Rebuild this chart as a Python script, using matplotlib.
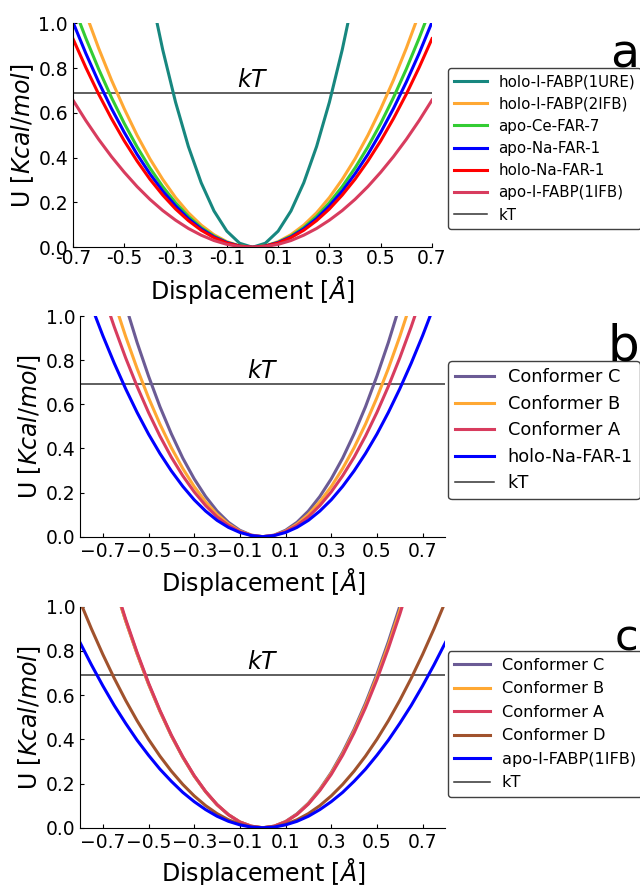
import numpy as np
import matplotlib
matplotlib.use('Agg')
import matplotlib.pyplot as plt

# energia kT (linea orizzontale)
kT = 0.69

xticks = [-0.7, -0.5, -0.3, -0.1, 0.1, 0.3, 0.5, 0.7]
xlabels_a = ['-0.7', '-0.5', '-0.3', '-0.1', '0.1', '0.3', '0.5', '0.7']
xlabels_bc = ['\u22120.7', '\u22120.5', '\u22120.3', '\u22120.1', '0.1', '0.3', '0.5', '0.7']
yticks = [0.0, 0.2, 0.4, 0.6, 0.8, 1.0]
ylabels = ['0.0', '0.2', '0.4', '0.6', '0.8', '1.0']

# pannello a
disp_a = [-0.7, -0.65, -0.6, -0.55, -0.5, -0.45, -0.4, -0.35, -0.3, -0.25, -0.2, -0.15, -0.1, -0.05, 0.0,
          0.05, 0.1, 0.15, 0.2, 0.25, 0.3, 0.35, 0.4, 0.45, 0.5, 0.55, 0.6, 0.65, 0.7]
disp_1ure = [-0.4, -0.35, -0.3, -0.25, -0.2, -0.15, -0.1, -0.05, 0.0,
             0.05, 0.1, 0.15, 0.2, 0.25, 0.3, 0.35, 0.4]
u_1ure = [1.152, .882, .648, .450, .288, .162, .072, .018, 0,
          .018, .072, .162, .288, .450, .648, .882, 1.152]
u_2ifb = [1.210, 1.044, .889, .747, .618, .500, .395, .303, .222, .154, .099, .056, .025, .006, 0,
          .006, .025, .056, .099, .154, .222, .303, .395, .500, .618, .747, .889, 1.044, 1.210]
u_cefar7 = [1.083, .934, .796, .669, .553, .448, .354, .271, .199, .138, .088, .050, .022, .006, 0,
            .006, .022, .050, .088, .138, .199, .271, .354, .448, .553, .669, .796, .934, 1.083]
u_apona = [1.005, .866, .738, .620, .513, .415, .328, .251, .185, .128, .082, .046, .021, .005, 0,
           .005, .021, .046, .082, .128, .185, .251, .328, .415, .513, .620, .738, .866, 1.005]
u_holona = [.931, .803, .684, .575, .475, .385, .304, .233, .171, .119, .076, .043, .019, .005, 0,
            .005, .019, .043, .076, .119, .171, .233, .304, .385, .475, .575, .684, .803, .931]
u_1ifb = [.657, .566, .482, .405, .335, .271, .214, .164, .121, .084, .054, .030, .013, .003, 0,
          .003, .013, .030, .054, .084, .121, .164, .214, .271, .335, .405, .482, .566, .657]

# pannelli b e c
disp_bc = [-0.8, -0.75, -0.7, -0.65, -0.6, -0.55, -0.5, -0.45, -0.4, -0.35, -0.3, -0.25, -0.2, -0.15, -0.1, -0.05, 0.0,
           0.05, 0.1, 0.15, 0.2, 0.25, 0.3, 0.35, 0.4, 0.45, 0.5, 0.55, 0.6, 0.65, 0.7, 0.75, 0.8]
ub_C = [1.862, 1.637, 1.426, 1.229, 1.048, .880, .728, .589, .466, .356, .262, .182, .116, .065, .029, .007, 0,
        .007, .029, .065, .116, .182, .262, .356, .466, .589, .728, .880, 1.048, 1.229, 1.426, 1.637, 1.862]
ub_B = [1.613, 1.418, 1.235, 1.065, .907, .762, .630, .510, .403, .309, .227, .158, .101, .057, .025, .006, 0,
        .006, .025, .057, .101, .158, .227, .309, .403, .510, .630, .762, .907, 1.065, 1.235, 1.418, 1.613]
ub_A = [1.440, 1.266, 1.103, .951, .810, .681, .563, .456, .360, .276, .203, .141, .090, .051, .023, .006, 0,
        .006, .023, .051, .090, .141, .203, .276, .360, .456, .563, .681, .810, .951, 1.103, 1.266, 1.440]
ub_holona = [1.190, 1.046, .911, .786, .670, .563, .465, .377, .298, .228, .167, .116, .074, .042, .019, .005, 0,
             .005, .019, .042, .074, .116, .167, .228, .298, .377, .465, .563, .670, .786, .911, 1.046, 1.190]

uc_C = [1.664, 1.463, 1.274, 1.099, .936, .787, .650, .527, .416, .319, .234, .163, .104, .059, .026, .007, 0,
        .007, .028, .063, .111, .174, .250, .341, .445, .563, .695, .841, 1.001, 1.175, 1.362, 1.564, 1.779]
uc_B = [1.664, 1.463, 1.274, 1.099, .936, .787, .650, .527, .416, .319, .234, .163, .104, .059, .026, .007, 0,
        .007, .027, .061, .109, .171, .246, .334, .437, .553, .683, .826, .983, 1.153, 1.338, 1.536, 1.747]
uc_A = [1.677, 1.474, 1.284, 1.107, .943, .793, .655, .531, .419, .321, .236, .164, .105, .059, .026, .007, 0,
        .007, .027, .060, .107, .168, .241, .328, .429, .543, .670, .811, .965, 1.132, 1.313, 1.508, 1.715]
uc_D = [1.024, .900, .784, .676, .576, .484, .400, .324, .256, .196, .144, .100, .064, .036, .016, .004, 0,
        .004, .016, .036, .064, .100, .144, .196, .256, .324, .400, .484, .576, .676, .784, .900, 1.024]
uc_1ifb = [.838, .737, .642, .553, .472, .396, .328, .265, .210, .160, .118, .082, .052, .029, .013, .003, 0,
           .003, .013, .029, .052, .082, .118, .160, .210, .265, .328, .396, .472, .553, .642, .737, .838]

c_teal = '#17877f'
c_orange = '#ffa833'
c_green = '#33cc33'
c_blue = '#0000ff'
c_red = '#ff0000'
c_crimson = '#d83c5e'
c_purple = '#6b5b95'
c_brown = '#a0522d'
c_kt = '#333333'


def pannello(ax, xlim, xlab, tickpad, lpad):
    ax.axhline(kT, color=c_kt, lw=1.1, label='kT')
    ax.text(0, kT + 0.005, '$kT$', ha='center', va='bottom', fontsize=17)
    ax.set_xlim(*xlim)
    ax.set_ylim(0, 1)
    ax.set_xticks(xticks)
    ax.set_xticklabels(xlab)
    ax.set_yticks(yticks)
    ax.set_yticklabels(ylabels)
    ax.tick_params(direction='in', length=3, labelsize=13.5)
    ax.tick_params(axis='x', pad=tickpad)
    ax.spines['top'].set_visible(False)
    ax.spines['right'].set_visible(False)
    ax.set_xlabel('Displacement [$Å$]', fontsize=17, labelpad=lpad)
    ax.set_ylabel('U [$Kcal/mol$]', fontsize=17, labelpad=2)


def legenda(ax, y, fs, ls):
    h, l = ax.get_legend_handles_labels()
    # kT per ultimo
    h = h[1:] + h[:1]
    l = l[1:] + l[:1]
    leg = ax.legend(h, l, loc='upper left', bbox_to_anchor=(0.700, y),
                    bbox_transform=fig.transFigure, borderaxespad=0,
                    fontsize=fs, labelspacing=ls, handlelength=2.2,
                    handletextpad=0.75, borderpad=0.4, framealpha=1)
    leg.get_frame().set_edgecolor('0.25')
    leg.get_frame().set_linewidth(1.0)


fig = plt.figure(figsize=(6.4, 8.85), dpi=100)
lw = 2.2

ax1 = fig.add_axes([0.114, 0.7206, 0.561, 0.2531])
pannello(ax1, (-0.7, 0.7), xlabels_a, 1.5, 4)
ax1.plot(disp_1ure, u_1ure, color=c_teal, lw=lw, label='holo-I-FABP(1URE)')
ax1.plot(disp_a, u_2ifb, color=c_orange, lw=lw, label='holo-I-FABP(2IFB)')
ax1.plot(disp_a, u_cefar7, color=c_green, lw=lw, label='apo-Ce-FAR-7')
ax1.plot(disp_a, u_apona, color=c_blue, lw=lw, label='apo-Na-FAR-1')
ax1.plot(disp_a, u_holona, color=c_red, lw=lw, label='holo-Na-FAR-1')
ax1.plot(disp_a, u_1ifb, color=c_crimson, lw=lw, label='apo-I-FABP(1IFB)')
legenda(ax1, 0.9228, 10.8, 0.48)

ax2 = fig.add_axes([0.125, 0.3936, 0.571, 0.2493])
pannello(ax2, (-0.8, 0.8), xlabels_bc, 3.5, 4)
ax2.plot(disp_bc, ub_C, color=c_purple, lw=lw, label='Conformer C')
ax2.plot(disp_bc, ub_B, color=c_orange, lw=lw, label='Conformer B')
ax2.plot(disp_bc, ub_A, color=c_crimson, lw=lw, label='Conformer A')
ax2.plot(disp_bc, ub_holona, color=c_blue, lw=lw, label='holo-Na-FAR-1')
legenda(ax2, 0.592, 12.8, 0.48)

ax3 = fig.add_axes([0.125, 0.0647, 0.571, 0.2498])
pannello(ax3, (-0.8, 0.8), xlabels_bc, 3.5, 3)
ax3.plot(disp_bc, uc_C, color=c_purple, lw=lw, label='Conformer C')
ax3.plot(disp_bc, uc_B, color=c_orange, lw=lw, label='Conformer B')
ax3.plot(disp_bc, uc_A, color=c_crimson, lw=lw, label='Conformer A')
ax3.plot(disp_bc, uc_D, color=c_brown, lw=lw, label='Conformer D')
ax3.plot(disp_bc, uc_1ifb, color=c_blue, lw=lw, label='apo-I-FABP(1IFB)')
legenda(ax3, 0.264, 11.6, 0.53)

fig.text(0.953, 0.924, 'a', fontsize=34, va='baseline')
fig.text(0.949, 0.593, 'b', fontsize=36, va='baseline')
fig.text(0.961, 0.2655, 'c', fontsize=31, va='baseline')

fig.savefig('out.png', dpi=100)
